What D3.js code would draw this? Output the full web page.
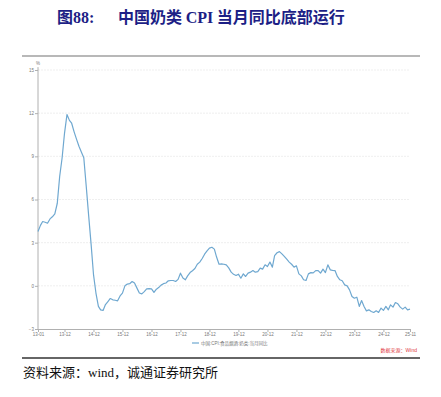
<!DOCTYPE html>
<html>
<head>
<meta charset="utf-8">
<script src="https://cdn.jsdelivr.net/npm/d3@7"></script>
<style>
    body { margin: 0; background: #fff; }
    svg { display: block; }
</style>
</head>
<body>
<svg width="441" height="397"></svg>
<script>
// 中国:CPI:食品烟酒:奶类:当月同比, monthly from 2013-01 to 2025-11
let startMonth = "2013-01";
let values = [
    3.77, 4.2, 4.47, 4.42, 4.35, 4.65, 4.8, 5.0, 5.74, 7.6, 8.9, 10.6,
    11.9, 11.5, 11.3, 10.7, 10.2, 9.7, 9.3, 8.9, 6.9, 4.9, 2.9, 0.8,
    -0.5, -1.43, -1.67, -1.71, -1.3, -1.09, -0.88, -0.97, -1.0, -1.04, -0.7, -0.51,
    0.0, 0.12, 0.15, 0.3, 0.19, -0.16, -0.5, -0.56, -0.4, -0.21, -0.2, -0.21,
    -0.46, -0.23, -0.12, 0.05, 0.15, 0.2, 0.35, 0.37, 0.37, 0.3, 0.45, 0.88,
    0.55, 0.42, 0.69, 0.92, 1.05, 1.2, 1.5, 1.65, 1.9, 2.2, 2.43, 2.62,
    2.68, 2.55, 2.0, 1.5, 1.53, 1.5, 1.46, 1.25, 0.95, 0.8, 0.72, 0.81,
    0.53, 0.83, 0.65, 0.88, 0.95, 1.06, 0.95, 0.99, 1.23, 1.16, 1.46, 1.34,
    1.65, 1.3, 2.1, 2.3, 2.38, 2.22, 2.05, 1.85, 1.65, 1.5, 1.3, 1.39,
    0.83, 0.69, 0.42, 0.37, 0.83, 0.92, 0.9, 1.06, 1.06, 0.88, 1.16, 0.92,
    1.46, 1.11, 1.08, 1.06, 0.65, 0.42, 0.35, 0.07, 0.0, -0.28, -0.74, -0.86,
    -0.79, -1.43, -1.02, -1.43, -1.74, -1.67, -1.78, -1.85, -1.74, -1.85, -1.55, -1.71,
    -1.43, -1.67, -1.32, -1.48, -1.16, -1.25, -1.48, -1.62, -1.48, -1.67, -1.62
];
let xTickLabels = ["13-01", "13-12", "14-12", "15-12", "16-12", "17-12", "18-12",
    "19-12", "20-12", "21-12", "22-12", "23-12", "24-12", "25-11"];
let yTicks = [-3, 0, 3, 6, 9, 12, 15];
let seriesName = "中国:CPI:食品烟酒:奶类:当月同比";

let parseMonth = d3.timeParse("%Y-%m");
let parseTick = d3.timeParse("%y-%m");
let start = parseMonth(startMonth);
let data = values.map(function(v, i) {
    return { date: d3.timeMonth.offset(start, i), value: v };
});

let svg = d3.select("svg");
let tiny = "Liberation Sans, Noto Sans CJK SC, sans-serif";

// Title
let title = svg.append("text")
    .attr("x", 57)
    .attr("y", 23)
    .attr("fill", "#1d1f86")
    .attr("font-size", 16)
    .attr("font-weight", "bold");
title.append("tspan")
    .attr("font-family", "Noto Sans CJK SC")
    .text("图");
title.append("tspan")
    .attr("font-family", "Liberation Serif")
    .text("88:");
title.append("tspan")
    .attr("x", 118)
    .attr("font-family", "Noto Sans CJK SC")
    .text("中国奶类 ");
title.append("tspan")
    .attr("font-family", "Liberation Serif")
    .text("CPI");
title.append("tspan")
    .attr("font-family", "Noto Sans CJK SC")
    .text(" 当月同比底部运行");

// Frame lines
svg.append("line")
    .attr("x1", 22).attr("x2", 420).attr("y1", 56).attr("y2", 56)
    .attr("stroke", "#a0a0a0").attr("stroke-width", 1.5);
svg.append("line")
    .attr("x1", 22).attr("x2", 420).attr("y1", 358).attr("y2", 358)
    .attr("stroke", "#333").attr("stroke-width", 1.5);

// Scales
let x = d3.scaleTime()
    .domain([data[0].date, data[data.length - 1].date])
    .range([38, 410]);
let y = d3.scaleLinear()
    .domain([-3, 15])
    .range([329, 70]);

// Grid
svg.append("g")
    .selectAll("line")
    .data(yTicks.slice(1))
    .enter()
    .append("line")
    .attr("x1", 38).attr("x2", 410)
    .attr("y1", function(d) { return y(d); })
    .attr("y2", function(d) { return y(d); })
    .attr("stroke", "#e4e4e4")
    .attr("stroke-width", 0.6)
    .attr("stroke-dasharray", "2,1");

// Y axis
let yAxis = svg.append("g")
    .attr("transform", "translate(38,0)")
    .call(d3.axisLeft(y).tickValues(yTicks).tickSize(3).tickPadding(1));
yAxis.select(".domain").attr("stroke", "#b0b0b0").attr("d", "M0," + y(15.2) + "V" + y(-3));
yAxis.selectAll(".tick line").attr("stroke", "#b0b0b0");
yAxis.selectAll("text").attr("font-size", 4.5).attr("fill", "#777").attr("font-family", tiny);

svg.append("text")
    .attr("x", 38).attr("y", 65)
    .attr("text-anchor", "middle")
    .attr("font-size", 4.5).attr("fill", "#777").attr("font-family", tiny)
    .text("%");

// X axis
let xAxis = svg.append("g")
    .attr("transform", "translate(0,329)")
    .call(d3.axisBottom(x)
        .tickValues(xTickLabels.map(parseTick))
        .tickFormat(d3.timeFormat("%y-%m"))
        .tickSize(3).tickPadding(1));
xAxis.select(".domain").attr("stroke", "#b0b0b0");
xAxis.selectAll(".tick line").attr("stroke", "#b0b0b0");
xAxis.selectAll("text").attr("font-size", 4.5).attr("fill", "#777").attr("font-family", tiny);

// Line
let line = d3.line()
    .x(function(d) { return x(d.date); })
    .y(function(d) { return y(d.value); });

svg.append("path")
    .datum(data)
    .attr("fill", "none")
    .attr("stroke", "#6fa8d0")
    .attr("stroke-width", 1.2)
    .attr("stroke-linejoin", "round")
    .attr("d", line);

// Legend
svg.append("line")
    .attr("x1", 192).attr("x2", 199).attr("y1", 343).attr("y2", 343)
    .attr("stroke", "#6fa8d0").attr("stroke-width", 1.2);
svg.append("text")
    .attr("x", 201).attr("y", 344.5)
    .attr("font-size", 4.5).attr("fill", "#777").attr("font-family", tiny)
    .text(seriesName);

// Source inside chart
svg.append("text")
    .attr("x", 417).attr("y", 351.5)
    .attr("text-anchor", "end")
    .attr("font-size", 5).attr("fill", "#e0383e").attr("font-family", tiny)
    .text("数据来源：Wind");

// Footer
svg.append("text")
    .attr("x", 23).attr("y", 377)
    .attr("font-size", 13).attr("fill", "#111")
    .attr("font-family", "Liberation Serif, Noto Sans CJK SC, serif")
    .text("资料来源：wind，诚通证券研究所");
</script>
</body>
</html>
